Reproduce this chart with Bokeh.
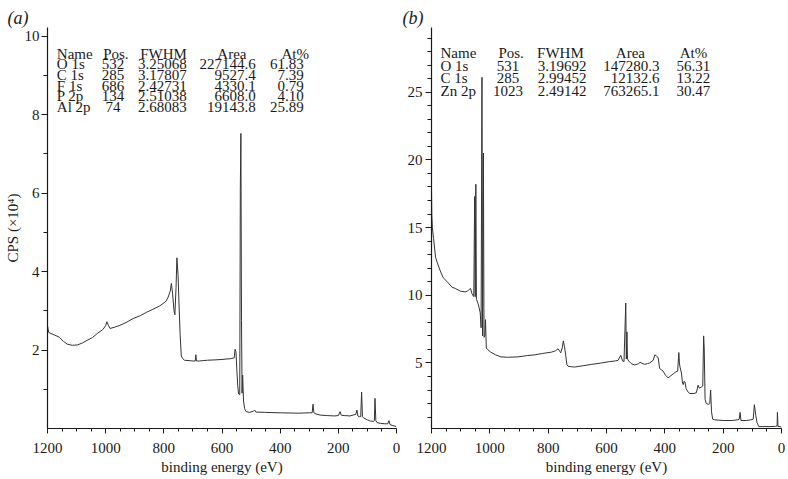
from bokeh.plotting import figure
from bokeh.layouts import row
from bokeh.models import Range1d, FixedTicker
from bokeh.core.properties import value
from bokeh.embed import file_html
from bokeh.resources import INLINE

FONT = "Liberation Serif"

# ---------------- data: panel (a) ----------------
a_energy = [1200, 1196, 1188, 1175, 1160, 1145, 1132, 1115, 1097, 1080, 1063, 1045, 1029, 1010,
            1000, 996, 990, 985, 970, 951, 930, 906, 880, 860, 840, 815, 800, 792, 785, 778,
            774, 770, 765, 762, 758, 755, 751, 748, 744, 740, 735, 729, 700, 692, 690, 688,
            678, 665, 650, 621, 600, 570, 558, 555, 552, 549, 546, 543, 539, 537, 535, 533,
            531, 529, 526, 522, 517, 505, 492, 488, 484, 450, 400, 336, 300, 290, 287, 284,
            277, 260, 240, 214, 200, 194, 190, 180, 160, 146, 140, 136, 133, 128, 123, 120,
            117, 113, 100, 90, 80, 76, 74, 71, 67, 55, 40, 30, 26, 22, 15, 5, 0]
a_cps = [2.62, 2.45, 2.42, 2.38, 2.33, 2.22, 2.15, 2.12, 2.13, 2.18, 2.25, 2.32, 2.42, 2.52,
         2.62, 2.72, 2.62, 2.55, 2.58, 2.63, 2.70, 2.80, 2.88, 2.96, 3.03, 3.12, 3.20, 3.25, 3.35, 3.50,
         3.70, 3.45, 3.00, 2.90, 3.60, 4.35, 3.90, 3.20, 2.40, 1.85, 1.78, 1.74, 1.72, 1.72, 1.88, 1.72,
         1.72, 1.73, 1.74, 1.75, 1.76, 1.78, 1.80, 2.02, 1.95, 1.50, 1.10, 0.88, 0.86, 6.10, 7.52, 2.75,
         0.90, 1.36, 0.70, 0.50, 0.43, 0.41, 0.44, 0.47, 0.42, 0.41, 0.40, 0.39, 0.40, 0.40, 0.62, 0.40,
         0.37, 0.34, 0.33, 0.32, 0.33, 0.43, 0.34, 0.33, 0.32, 0.35, 0.36, 0.47, 0.32, 0.30, 0.30, 0.93,
         0.30, 0.27, 0.22, 0.19, 0.18, 0.20, 0.77, 0.20, 0.15, 0.13, 0.12, 0.12, 0.20, 0.10, 0.08, 0.06, 0.04]

a_names = ["O 1s", "C 1s", "F 1s", "P 2p", "Al 2p"]
a_pos = ["532", "285", "686", "134", "74"]
a_fwhm = ["3.25068", "3.17807", "2.42731", "2.51038", "2.68083"]
a_area = ["227144.6", "9527.4", "4330.1", "6608.0", "19143.8"]
a_at = ["61.83", "7.39", "0.79", "4.10", "25.89"]

# ---------------- data: panel (b) ----------------
b_energy = [1200, 1199, 1197, 1193, 1186, 1180, 1170, 1160, 1146, 1130, 1118, 1100, 1085, 1077,
            1070, 1066, 1061, 1055, 1052, 1050, 1048, 1046, 1042, 1038, 1033, 1030, 1027, 1025,
            1022, 1020, 1017, 1015, 1012, 1008, 997, 980, 962, 940, 904, 870, 846, 820, 789, 775,
            766, 760, 757, 752, 748, 744, 740, 736, 732, 720, 709, 680, 650, 617, 590, 570, 560,
            551, 545, 540, 534, 532, 530, 528, 524, 515, 503, 490, 485, 480, 469, 460, 452, 440,
            434, 428, 423, 418, 412, 406, 398, 389, 380, 371, 362, 356, 352, 350, 348, 343, 340,
            337, 334, 331, 327, 320, 315, 300, 292, 286, 282, 276, 270, 267, 265, 262, 258, 250,
            246, 243, 240, 236, 229, 200, 170, 150, 145, 142, 139, 120, 105, 97, 93, 88, 84, 78,
            60, 40, 20, 15, 14, 12, 5, 0]
b_cps = [17.9, 16.0, 15.0, 14.2, 12.8, 12.4, 11.8, 11.3, 11.0, 10.6, 10.5, 10.3, 10.25, 10.3,
         10.45, 10.5, 10.1, 9.9, 17.3, 9.9, 18.2, 9.7, 9.5, 9.2, 8.7, 7.6, 26.1, 7.0,
         20.5, 6.9, 7.0, 8.2, 6.1, 6.0, 5.8, 5.6, 5.45, 5.42, 5.45, 5.55, 5.6, 5.7, 5.8, 5.9,
         6.05, 5.85, 5.75, 6.1, 6.63, 6.2, 5.6, 4.9, 4.76, 4.72, 4.7, 4.8, 4.9, 5.0, 5.1, 5.15, 5.2,
         5.57, 5.15, 5.1, 9.42, 5.3, 7.3, 5.3, 5.15, 4.95, 4.85, 4.95, 5.05, 5.0, 4.9, 4.95, 5.0, 5.2,
         5.6, 5.5, 5.4, 4.6, 4.5, 4.4, 4.1, 3.9, 4.05, 4.2, 4.35, 4.4, 5.77, 5.0, 4.7, 4.25, 3.6,
         3.4, 3.65, 3.6, 3.1, 2.85, 2.74, 2.75, 2.8, 3.36, 3.15, 3.2, 3.3, 7.0, 6.1, 2.3, 2.0, 1.95,
         2.0, 3.0, 1.4, 0.85, 0.8, 0.75, 0.75, 0.8, 0.85, 1.35, 0.75, 0.75, 0.8, 0.85, 1.92, 1.1, 0.6, 0.3,
         0.3, 0.3, 0.32, 0.35, 1.35, 0.3, 0.3, 0.25]

b_names = ["O 1s", "C 1s", "Zn 2p"]
b_pos = ["531", "285", "1023"]
b_fwhm = ["3.19692", "2.99452", "2.49142"]
b_area = ["147280.3", "12132.6", "763265.1"]
b_at = ["56.31", "13.22", "30.47"]

headers = ["Name", "Pos.", "FWHM", "Area", "At%"]
x_ticks = [0, 200, 400, 600, 800, 1000, 1200]
x_minor = list(range(0, 1201, 50))
a_ticks = [2, 4, 6, 8, 10]
a_minor = [1, 3, 5, 7, 9]
b_ticks = [5, 10, 15, 20, 25]
b_minor = [v for v in range(1, 30) if v % 5 != 0]

INK = "#1a1a1a"
H = 479


def make_fig(width, y_range, min_left, min_right, min_top, yticks, yminor, title, title_offset):
    p = figure(width=width, height=H, x_range=Range1d(1200, 0), y_range=y_range,
               output_backend="svg", toolbar_location=None, title=title,
               min_border_left=min_left, min_border_right=min_right,
               min_border_top=min_top, min_border_bottom=51)
    p.outline_line_color = None
    p.xgrid.visible = False
    p.ygrid.visible = False
    p.background_fill_color = "white"
    p.border_fill_color = "white"
    p.title.text_font = FONT
    p.title.text_font_size = "18px"
    p.title.text_font_style = "italic"
    p.title.text_color = INK
    p.title.align = "left"
    p.title.offset = title_offset
    p.title.standoff = 0
    p.xaxis.ticker = FixedTicker(ticks=x_ticks, minor_ticks=x_minor)
    p.yaxis.ticker = FixedTicker(ticks=yticks, minor_ticks=yminor)
    for ax in (p.xaxis, p.yaxis):
        ax.axis_line_color = INK
        ax.axis_line_width = 1.2
        ax.major_tick_line_color = INK
        ax.minor_tick_line_color = INK
        ax.major_tick_in = 0
        ax.minor_tick_in = 0
        ax.major_label_text_font = FONT
        ax.major_label_text_font_size = "15px"
        ax.major_label_text_color = INK
        ax.axis_label_text_font = FONT
        ax.axis_label_text_font_size = "15px"
        ax.axis_label_text_font_style = "normal"
        ax.axis_label_text_color = INK
    p.xaxis.major_tick_out = 5
    p.xaxis.minor_tick_out = 3
    p.yaxis.major_tick_out = 6
    p.yaxis.minor_tick_out = 4
    p.xaxis.major_label_standoff = 9
    p.yaxis.major_label_standoff = 3
    p.xaxis.axis_label = "binding energy (eV)"
    p.xaxis.axis_label_standoff = 3
    return p


def add_table(p, rows_y, header_y, cols):
    for hx, halign, dx, dalign, vals, head in cols:
        p.text(x=[hx], y=[header_y], text=[head], text_font=value(FONT), text_font_size="15px",
               text_align=halign, text_baseline="middle", text_color=INK)
        p.text(x=[dx] * len(vals), y=rows_y[:len(vals)], text=vals, text_font=value(FONT),
               text_font_size="15px", text_align=dalign, text_baseline="middle", text_color=INK)


# ---------------- panel (a) ----------------
pa = make_fig(400, Range1d(0, 10.22), 47, 4, 25, a_ticks, a_minor, "(a)", -40)
pa.line(a_energy, a_cps, line_color="#333333", line_width=1)
add_table(pa, [9.28, 9.01, 8.74, 8.47, 8.19], 9.54, [
    (1168, "left", 1168, "left", a_names, headers[0]),
    (965, "center", 975, "center", a_pos, headers[1]),
    (801, "center", 805, "center", a_fwhm, headers[2]),
    (566, "center", 484, "right", a_area, headers[3]),
    (301, "right", 319, "right", a_at, headers[4]),
])
pa.yaxis.axis_label = "CPS (×10⁴)"
pa.yaxis.axis_label_standoff = 1
pa.yaxis.major_label_standoff = 2

# ---------------- panel (b) ----------------
pb = make_fig(388, Range1d(0.16, 29.78), 31, 7, 27, b_ticks, b_minor, "(b)", -29)
pb.line(b_energy, b_cps, line_color="#333333", line_width=1)
add_table(pb, [26.97, 26.04, 25.1], 27.93, [
    (1169, "left", 1169, "left", b_names, headers[0]),
    (927, "center", 938, "center", b_pos, headers[1]),
    (758, "center", 752, "center", b_fwhm, headers[2]),
    (518, "center", 418, "right", b_area, headers[3]),
    (302, "center", 302, "center", b_at, headers[4]),
])

layout = row(pa, pb)
open("out.html", "w").write(file_html(layout, INLINE))
